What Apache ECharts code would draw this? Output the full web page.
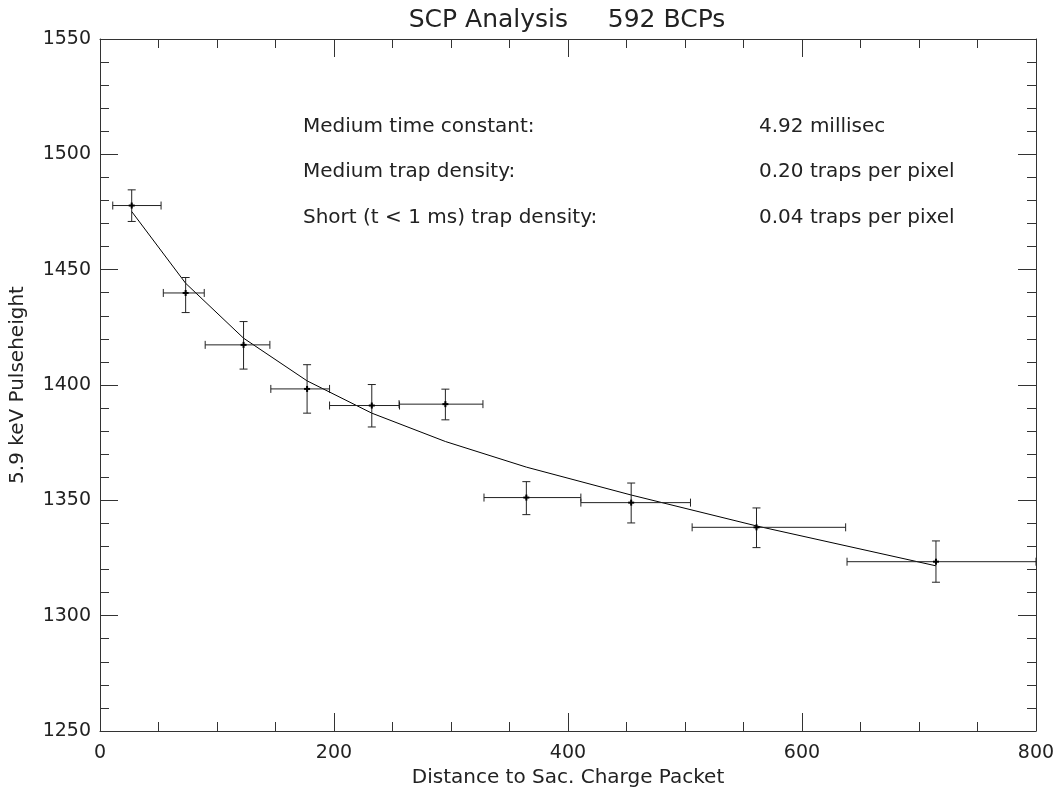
<!DOCTYPE html>
<html><head><meta charset="utf-8">
<script src="https://cdn.jsdelivr.net/npm/echarts@6/dist/echarts.min.js"></script>
<style>html,body{margin:0;padding:0;background:#fff}#c{width:1058px;height:793px}</style>
</head><body><div id="c"></div><script>
const xCenters=[27.1,73.2,122.7,177.0,232.3,295.2,364.4,454.0,561.1,714.5];
const xLow=[10.9,54.1,89.9,146.0,196.2,255.6,328.2,411.0,506.1,638.5];
const xHigh=[52.2,89.1,145.2,196.2,256.0,327.3,411.0,504.7,637.3,800];
const yValues=[1477.8,1439.9,1417.4,1398.3,1391.1,1391.7,1351.2,1349.0,1338.3,1323.4];
const yLow=[1470.9,1431.4,1406.9,1387.8,1381.8,1384.9,1343.8,1340.2,1329.5,1314.5];
const yHigh=[1484.6,1446.6,1427.5,1408.8,1400.2,1398.2,1358.1,1357.5,1346.7,1332.4];
const fitValues=[1475.2,1444.1,1420.3,1401.8,1387.8,1375.5,1364.4,1352.3,1338.9,1321.6];
const labelsLeft=['Medium time constant:','Medium trap density:','Short (t < 1 ms) trap density:'];
const labelsRight=['4.92 millisec','0.20 traps per pixel','0.04 traps per pixel'];
const titleText='SCP Analysis     592 BCPs';
const xName='Distance to Sac. Charge Packet';
const yName='5.9 keV Pulseheight';
const xRange=[0,800], xMajor=200, xMinor=50;
const yRange=[1250,1550], yMajor=50, yMinor=10;

const FONT='DejaVu Sans';
const TXT='#222';
const AX='#333';
const chart=echarts.init(document.getElementById('c'),null,{renderer:'canvas'});

const errData=xCenters.map((x,i)=>[x,yValues[i],xLow[i],xHigh[i],yLow[i],yHigh[i]]);
const fitData=xCenters.map((x,i)=>[x,fitValues[i]]);

function mainAxis(pos,isX,showLabel){
  const r=isX?xRange:yRange;
  return {
    type:'value',position:pos,
    min:r[0],max:r[1],interval:isX?xMajor:yMajor,
    axisLine:{show:true,onZero:false,lineStyle:{color:AX,width:1}},
    axisTick:{show:true,inside:true,length:18,lineStyle:{color:AX}},
    minorTick:{show:false},
    splitLine:{show:false},
    axisLabel:{show:showLabel,color:TXT,fontFamily:FONT,fontSize:19,margin:isX?13:9,
      formatter:v=>String(v)},
    name:showLabel?(isX?xName:yName):'',
    nameLocation:'middle',
    nameGap:isX?37:72,
    nameTextStyle:{color:TXT,fontFamily:FONT,fontSize:20}
  };
}
function minorAxis(pos,isX){
  const r=isX?xRange:yRange;
  return {
    type:'value',position:pos,
    min:r[0],max:r[1],interval:isX?xMinor:yMinor,
    axisLine:{show:false,onZero:false},
    axisTick:{show:true,inside:true,length:9,lineStyle:{color:AX}},
    splitLine:{show:false},
    axisLabel:{show:false}
  };
}

const graphics=[];
graphics.push({type:'text',silent:true,style:{text:titleText,x:567,y:20,textAlign:'center',textVerticalAlign:'middle',font:'25px "DejaVu Sans"',fill:TXT}});
const rowsY=[127,172,218];
labelsLeft.forEach((t,i)=>graphics.push({type:'text',silent:true,style:{text:t,x:303,y:rowsY[i],textAlign:'left',textVerticalAlign:'middle',font:'20px "DejaVu Sans"',fill:TXT}}));
labelsRight.forEach((t,i)=>graphics.push({type:'text',silent:true,style:{text:t,x:759,y:rowsY[i],textAlign:'left',textVerticalAlign:'middle',font:'20px "DejaVu Sans"',fill:TXT}}));

chart.setOption({
  animation:false,
  backgroundColor:'#fff',
  grid:{left:99,right:22,top:39,bottom:62,containLabel:false},
  xAxis:[mainAxis('bottom',true,true),mainAxis('top',true,false),minorAxis('bottom',true),minorAxis('top',true)],
  yAxis:[mainAxis('left',false,true),mainAxis('right',false,false),minorAxis('left',false),minorAxis('right',false)],
  graphic:graphics,
  series:[
    {type:'line',data:fitData,xAxisIndex:0,yAxisIndex:0,showSymbol:false,symbol:'none',
     lineStyle:{color:'#000',width:1},silent:true,z:3},
    {type:'custom',data:errData,xAxisIndex:0,yAxisIndex:0,silent:true,z:4,
     encode:{x:[0,2,3],y:[1,4,5]},
     renderItem:function(params,api){
       const x=api.value(0),y=api.value(1),xl=api.value(2),xh=api.value(3),yl=api.value(4),yh=api.value(5);
       const c=api.coord([x,y]);
       const pl=api.coord([xl,y]),ph=api.coord([xh,y]);
       const pt=api.coord([x,yh]),pb=api.coord([x,yl]);
       const cap=4,m=3;
       const st={stroke:'#222',lineWidth:1,fill:null};
       const st2={stroke:'#000',lineWidth:2,fill:null};
       const L=(x1,y1,x2,y2,s)=>({type:'line',shape:{x1,y1,x2,y2},style:s});
       return {type:'group',children:[
         L(pl[0],c[1],ph[0],c[1],st),
         L(pl[0],c[1]-cap,pl[0],c[1]+cap,st),
         L(ph[0],c[1]-cap,ph[0],c[1]+cap,st),
         L(c[0],pt[1],c[0],pb[1],st),
         L(c[0]-cap,pt[1],c[0]+cap,pt[1],st),
         L(c[0]-cap,pb[1],c[0]+cap,pb[1],st),
         L(c[0]-m,c[1],c[0]+m,c[1],st2),
         L(c[0],c[1]-m,c[0],c[1]+m,st2)
       ]};
     }}
  ]
});
</script></body></html>
